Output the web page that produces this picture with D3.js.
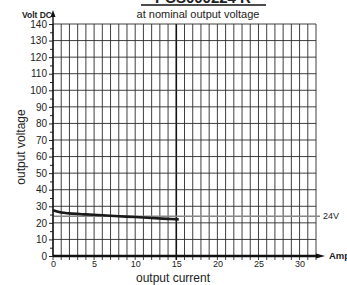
<!DOCTYPE html>
<html>
<head>
<meta charset="utf-8">
<script src="https://cdn.jsdelivr.net/npm/d3@7"></script>
<style>
  body { margin: 0; background: #fff; }
  svg text { font-family: "Liberation Sans", Arial, sans-serif; fill: #222; }
</style>
</head>
<body>
<svg width="347" height="285"></svg>
<script>
//curve data: output current (A) vs output voltage (V)
var currents = [0, 0.5, 1, 2, 4, 6, 8, 10, 12, 14, 15.3];
var voltages = [27.6, 26.8, 26.2, 25.7, 25.1, 24.6, 24.0, 23.5, 22.9, 22.4, 22.1];

//tick labels
var xTicks = [0, 5, 10, 15, 20, 25, 30];
var yTicks = [0, 10, 20, 30, 40, 50, 60, 70, 80, 90, 100, 110, 120, 130, 140];
var nominal = 24;

var svg = d3.select("svg");

//scales
var x = d3.scaleLinear().domain([0, 32]).range([53, 316]);
var y = d3.scaleLinear().domain([0, 140]).range([256, 24]);

var gGrid = svg.append("g");

//vertical grid lines, one per amp
d3.range(0, 33).forEach(function (a) {
    gGrid.append("line")
        .attr("x1", x(a)).attr("x2", x(a))
        .attr("y1", y(140)).attr("y2", y(0) + 4)
        .attr("stroke", a === 15 ? "#111" : "#2a2a2a")
        .attr("stroke-width", a === 15 ? 1.6 : 0.9);
});

//horizontal grid lines every 10 V
yTicks.forEach(function (v) {
    gGrid.append("line")
        .attr("x1", x(0)).attr("x2", x(32))
        .attr("y1", y(v)).attr("y2", y(v))
        .attr("stroke", "#2a2a2a")
        .attr("stroke-width", 0.9);
});

//nominal voltage line
svg.append("line")
    .attr("x1", x(0)).attr("x2", x(32) + 4)
    .attr("y1", y(nominal)).attr("y2", y(nominal))
    .attr("stroke", "#888")
    .attr("stroke-width", 1.4);
svg.append("text")
    .attr("x", 323).attr("y", y(nominal) + 3)
    .attr("font-size", 9)
    .text(nominal + "V");

//y axis
var axisY = d3.axisLeft(y)
    .tickValues(d3.range(0, 141, 5))
    .tickSize(4)
    .tickFormat(function (d) { return d % 10 === 0 ? d : ""; });
var gY = svg.append("g")
    .attr("transform", "translate(" + x(0) + ",0)")
    .call(axisY);
gY.select(".domain").remove();
gY.selectAll(".tick line").attr("stroke", "#222")
    .attr("x2", function (d) { return d % 10 === 0 ? -4 : -3; });
gY.selectAll(".tick text")
    .attr("x", -6)
    .attr("font-size", 10)
    .attr("font-family", "Liberation Sans, Arial, sans-serif")
    .attr("fill", "#222");

svg.append("line")
    .attr("x1", x(0)).attr("x2", x(0))
    .attr("y1", y(0)).attr("y2", 15)
    .attr("stroke", "#111").attr("stroke-width", 1.4);
svg.append("path")
    .attr("d", "M" + (x(0) - 2.5) + ",17 L" + x(0) + ",10 L" + (x(0) + 2.5) + ",17 Z")
    .attr("fill", "#111");

//x axis
var axisX = d3.axisBottom(x)
    .tickValues(xTicks)
    .tickSize(0)
    .tickPadding(5);
var gX = svg.append("g")
    .attr("transform", "translate(0," + y(0) + ")")
    .call(axisX);
gX.select(".domain").remove();
gX.selectAll(".tick text")
    .attr("font-size", 9)
    .attr("font-family", "Liberation Sans, Arial, sans-serif")
    .attr("fill", "#222");

svg.append("line")
    .attr("x1", x(0)).attr("x2", 318)
    .attr("y1", y(0)).attr("y2", y(0))
    .attr("stroke", "#111").attr("stroke-width", 2.6);
svg.append("path")
    .attr("d", "M316," + (y(0) - 2.5) + " L325," + y(0) + " L316," + (y(0) + 2.5) + " Z")
    .attr("fill", "#111");

//curve
var line = d3.line()
    .x(function (d, i) { return x(currents[i]); })
    .y(function (d) { return y(d); })
    .curve(d3.curveMonotoneX);
svg.append("path")
    .datum(voltages)
    .attr("d", line)
    .attr("fill", "none")
    .attr("stroke", "#1a1a1a")
    .attr("stroke-width", 2.6);

//labels
svg.append("text")
    .attr("x", 52).attr("y", 18)
    .attr("text-anchor", "end")
    .attr("font-size", 8.5)
    .attr("font-weight", "bold")
    .text("Volt DC");

svg.append("text")
    .attr("x", 329).attr("y", 259)
    .attr("font-size", 9.5)
    .attr("font-weight", "bold")
    .text("Amp");

svg.append("text")
    .attr("transform", "translate(25,147) rotate(-90)")
    .attr("text-anchor", "middle")
    .attr("font-size", 12)
    .text("output voltage");

svg.append("text")
    .attr("x", 173).attr("y", 282)
    .attr("text-anchor", "middle")
    .attr("font-size", 12)
    .text("output current");

//title, mostly clipped by the top edge
svg.append("text")
    .attr("x", 203).attr("y", 3)
    .attr("text-anchor", "middle")
    .attr("font-size", 15)
    .attr("font-weight", "bold")
    .text("PCS000224 R");
svg.append("line")
    .attr("x1", 141).attr("x2", 266)
    .attr("y1", 5).attr("y2", 5)
    .attr("stroke", "#111").attr("stroke-width", 1.6);

svg.append("text")
    .attr("x", 198).attr("y", 18)
    .attr("text-anchor", "middle")
    .attr("font-size", 11)
    .text("at nominal output voltage");
</script>
</body>
</html>
